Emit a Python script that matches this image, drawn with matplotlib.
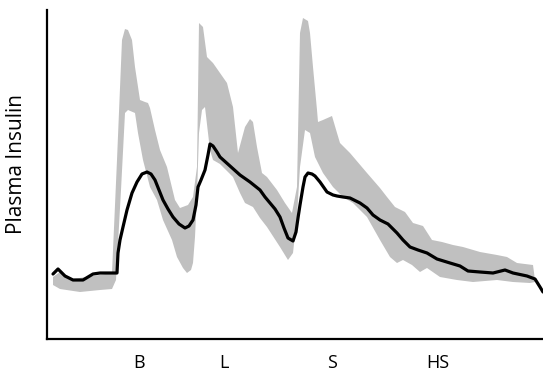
import numpy as np
import matplotlib
matplotlib.use("Agg")
import matplotlib.pyplot as plt

# Mean plasma insulin curve (arbitrary units vs time)
line_x = [6, 11, 18, 26, 36, 46, 53, 70, 71, 73, 76, 80, 85, 90, 95, 100, 104, 108, 112, 116, 121,
          126, 132, 138, 142, 146, 149, 151, 154, 158, 161, 163, 166, 170, 173, 183, 193, 203,
          213, 218, 223, 228, 233, 237, 241, 246, 249, 251, 253, 256, 258, 261, 265, 268, 273,
          280, 286, 290, 296, 303, 313, 320, 326, 333, 341, 350, 356, 363, 371, 380, 390, 403,
          413, 421, 433, 446, 458, 466, 480, 488, 493, 496]
line_y = [65, 70, 63, 59, 59, 65, 66, 66, 86, 99, 112, 129, 146, 157, 165, 167, 165, 159, 149, 139, 130,
          122, 115, 111, 113, 119, 134, 152, 159, 169, 184, 195, 193, 187, 182, 173, 164, 157,
          149, 142, 136, 130, 122, 111, 101, 98, 107, 121, 134, 152, 162, 166, 165, 163, 157,
          147, 144, 143, 142, 141, 136, 131, 124, 119, 115, 106, 99, 92, 89, 86, 80, 76,
          73, 68, 67, 66, 69, 66, 63, 60, 52, 47]

# Range band: upper edge
upper_x = [6, 13, 26, 46, 65, 70, 75, 78, 81, 85, 88, 93, 98, 101, 103, 108, 113, 120, 128, 133,
           141, 146, 150, 152, 156, 160, 166, 173, 180, 186, 191, 198, 203, 206, 210, 215, 220,
           230, 238, 245, 250, 253, 256, 261, 263, 266, 270, 271, 276, 285, 290, 293, 303, 320,
           333, 340, 348, 358, 366, 376, 385, 395, 406, 416, 433, 450, 460, 470, 486, 488]
upper_y = [62, 67, 60, 63, 66, 179, 299, 310, 309, 299, 272, 239, 237, 236, 231, 209, 189, 172, 139, 131,
           134, 142, 172, 316, 312, 282, 276, 266, 256, 232, 186, 212, 220, 217, 192, 166, 162,
           149, 136, 126, 152, 306, 321, 318, 306, 272, 229, 217, 219, 223, 206, 196, 186, 166,
           151, 142, 132, 127, 116, 113, 99, 97, 94, 92, 87, 84, 82, 76, 74, 59]

# Range band: lower edge
lower_x = [6, 13, 33, 53, 65, 69, 74, 78, 81, 88, 91, 96, 103, 110, 116, 125, 130, 136, 140, 144,
           146, 148, 150, 152, 155, 158, 161, 163, 166, 173, 186, 193, 198, 206, 213, 220, 233,
           241, 246, 250, 253, 258, 263, 268, 276, 286, 296, 306, 320, 333, 343, 350, 356, 365,
           373, 380, 393, 410, 426, 450, 466, 483, 488]
lower_y = [54, 50, 47, 49, 50, 59, 149, 226, 229, 226, 206, 179, 152, 139, 119, 99, 82, 71, 66, 69,
           76, 102, 144, 206, 229, 232, 206, 189, 179, 175, 162, 146, 136, 132, 121, 112, 92,
           79, 86, 122, 172, 209, 206, 182, 166, 152, 142, 136, 122, 99, 82, 76, 79, 74,
           67, 71, 62, 59, 57, 59, 57, 56, 57]

tick_pos = [92, 177, 285, 391]
tick_labels = ["B", "L", "S", "HS"]

plt.rcParams['font.family'] = ['Open Sans', 'DejaVu Sans']

fig = plt.figure(figsize=(5.43, 3.71), dpi=100)
ax = fig.add_axes([47 / 543, 32 / 371, 496 / 543, 329 / 371])

band_x = np.concatenate([upper_x, lower_x[::-1]])
band_y = np.concatenate([upper_y, lower_y[::-1]])
ax.fill(band_x, band_y, color="#c0c0c0", lw=0, zorder=1)
ax.plot(line_x, line_y, color="black", lw=2.3, solid_joinstyle="round",
        solid_capstyle="round", zorder=2)

ax.set_xlim(0, 496)
ax.set_ylim(0, 329)
for s in ["top", "right"]:
    ax.spines[s].set_visible(False)
for s in ["left", "bottom"]:
    ax.spines[s].set_linewidth(1.6)
ax.set_yticks([])
ax.set_xticks(tick_pos)
ax.set_xticklabels(tick_labels, fontsize=13)
ax.tick_params(axis="x", length=0, pad=11)

fig.text(17 / 543, 1 - 164 / 371, "Plasma Insulin", rotation=90, ha="center", va="center",
         fontsize=15)

fig.savefig("out.png", dpi=100)
